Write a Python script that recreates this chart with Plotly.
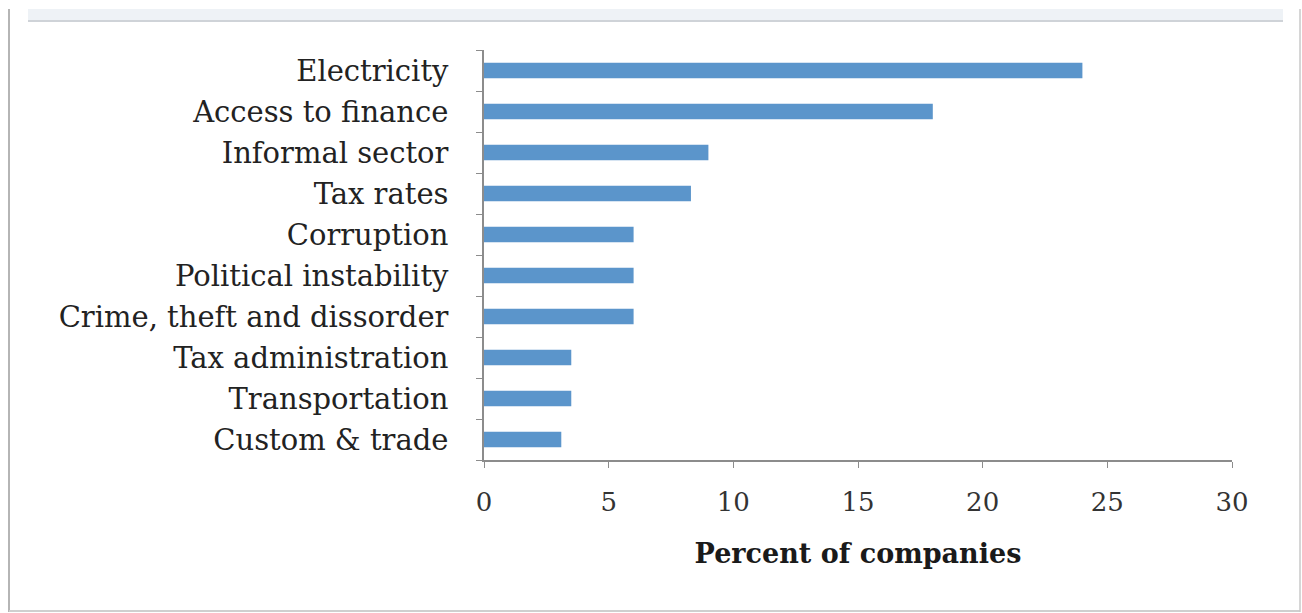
import plotly.graph_objects as go

categories = ["Electricity", "Access to finance", "Informal sector", "Tax rates", "Corruption",
              "Political instability", "Crime, theft and dissorder", "Tax administration",
              "Transportation", "Custom & trade"]
values = [24.0, 18.0, 9.0, 8.3, 6.0, 6.0, 6.0, 3.5, 3.5, 3.1]
x_ticks = [0, 5, 10, 15, 20, 25, 30]

W, H = 1302, 613
L, R, T, B = 484, 70, 50, 153
pw, ph = W - L - R, H - T - B

def px(x):
    return (x - L) / pw

def py(y):
    return (H - B - y) / ph

fig = go.Figure(go.Bar(
    y=categories, x=values, orientation="h",
    marker=dict(color="#5B95CB", line=dict(width=0)),
    width=0.38,
))

fig.update_layout(
    width=W, height=H,
    margin=dict(l=L, r=R, t=T, b=B, autoexpand=False),
    paper_bgcolor="white", plot_bgcolor="white",
    showlegend=False,
    xaxis=dict(range=[0, 30], tickvals=x_ticks, showgrid=False, zeroline=False,
               showline=True, linecolor="#8c8c8c", linewidth=1.5,
               ticks="outside", ticklen=6, tickcolor="#8c8c8c",
               ticklabelstandoff=12,
               tickfont=dict(family="DejaVu Serif", size=26, color="#333333"),
               title=dict(text="<b>Percent of companies</b>", standoff=28,
                          font=dict(family="DejaVu Serif", size=27, color="#1a1a1a"))),
    yaxis=dict(categoryorder="array", categoryarray=categories[::-1],
               showgrid=False, zeroline=False, showline=True,
               linecolor="#8c8c8c", linewidth=1.5,
               ticks="outside", ticklen=6, tickcolor="#8c8c8c", tickson="boundaries",
               ticklabelstandoff=28,
               tickfont=dict(family="DejaVu Serif", size=29, color="#222222")),
    shapes=[
        dict(type="rect", xref="paper", yref="paper", x0=px(28), x1=px(1283), y0=py(21), y1=py(9),
             fillcolor="#eef2f6", line=dict(width=0), layer="below"),
        dict(type="line", xref="paper", yref="paper", x0=px(28), x1=px(1283), y0=py(21), y1=py(21),
             line=dict(color="#cfd3d8", width=2)),
        dict(type="line", xref="paper", yref="paper", x0=px(9), x1=px(9), y0=py(9), y1=py(612),
             line=dict(color="#b5b5b5", width=2)),
        dict(type="line", xref="paper", yref="paper", x0=px(9), x1=px(1300), y0=py(611), y1=py(611),
             line=dict(color="#cfcfcf", width=2)),
        dict(type="line", xref="paper", yref="paper", x0=px(1300), x1=px(1300), y0=py(9), y1=py(612),
             line=dict(color="#c8c8c8", width=1.5)),
    ],
)

fig.write_html("out.html")
